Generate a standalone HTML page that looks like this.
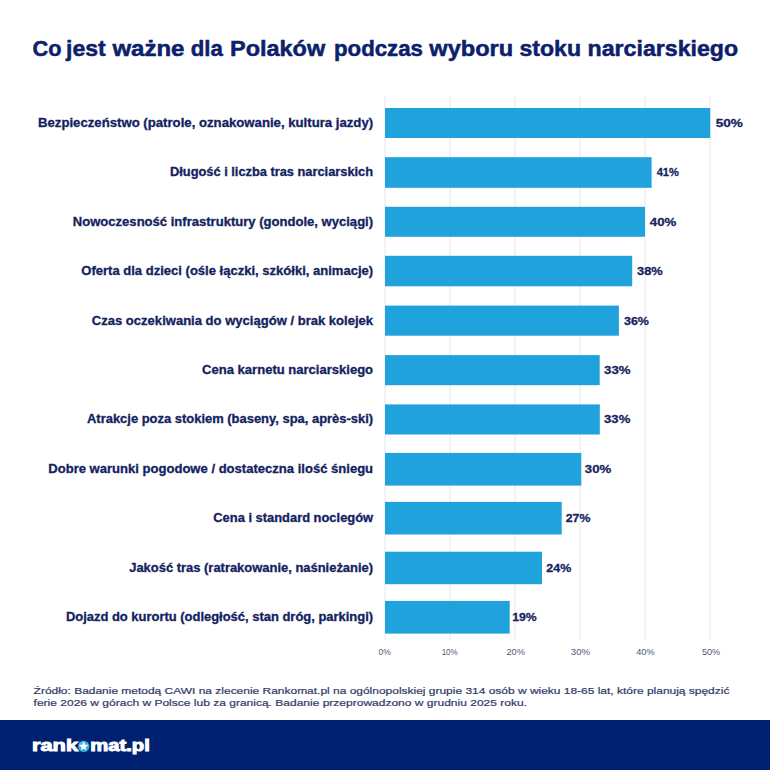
<!DOCTYPE html><html><head><meta charset="utf-8"><style>html,body{margin:0;padding:0;background:#fff;}body{width:770px;height:770px;overflow:hidden;position:relative;}svg{position:absolute;left:0;top:0;display:block;}</style></head><body>
<svg width="770" height="770" viewBox="0 0 770 770" font-family="'Liberation Sans', sans-serif">
<rect x="0" y="0" width="770" height="770" fill="#ffffff"/>
<rect x="384.5" y="96" width="1" height="545" fill="#e8e8eb"/>
<rect x="449.5" y="96" width="1" height="545" fill="#e8e8eb"/>
<rect x="514.5" y="96" width="1" height="545" fill="#e8e8eb"/>
<rect x="579.5" y="96" width="1" height="545" fill="#e8e8eb"/>
<rect x="644.5" y="96" width="1" height="545" fill="#e8e8eb"/>
<rect x="709.5" y="96" width="1" height="545" fill="#e8e8eb"/>
<rect x="385" y="108.0" width="325.20000000000005" height="30.00" fill="#20a2dc"/>
<rect x="385" y="157.2" width="266.6" height="30.60" fill="#20a2dc"/>
<rect x="385" y="206.8" width="260.0" height="30.00" fill="#20a2dc"/>
<rect x="385" y="255.8" width="247.20000000000005" height="30.50" fill="#20a2dc"/>
<rect x="385" y="305.6" width="233.89999999999998" height="30.10" fill="#20a2dc"/>
<rect x="385" y="355.1" width="214.70000000000005" height="30.10" fill="#20a2dc"/>
<rect x="385" y="404.4" width="214.79999999999995" height="30.10" fill="#20a2dc"/>
<rect x="385" y="452.9" width="196.29999999999995" height="32.70" fill="#20a2dc"/>
<rect x="385" y="501.9" width="176.70000000000005" height="32.60" fill="#20a2dc"/>
<rect x="385" y="551.7" width="157.0" height="32.50" fill="#20a2dc"/>
<rect x="385" y="600.9" width="124.69999999999999" height="32.70" fill="#20a2dc"/>
<rect x="0" y="720" width="770" height="50" fill="#002070"/>
<text x="32.60" y="55.7" font-size="21.2" font-weight="bold" fill="#0c206c" textLength="29.00" lengthAdjust="spacingAndGlyphs" stroke="#0c206c" stroke-width="0.5">Co</text>
<text x="66.00" y="55.7" font-size="21.2" font-weight="bold" fill="#0c206c" textLength="39.70" lengthAdjust="spacingAndGlyphs" stroke="#0c206c" stroke-width="0.5">jest</text>
<text x="112.40" y="55.7" font-size="21.2" font-weight="bold" fill="#0c206c" textLength="72.10" lengthAdjust="spacingAndGlyphs" stroke="#0c206c" stroke-width="0.5">ważne</text>
<text x="190.70" y="55.7" font-size="21.2" font-weight="bold" fill="#0c206c" textLength="32.10" lengthAdjust="spacingAndGlyphs" stroke="#0c206c" stroke-width="0.5">dla</text>
<text x="230.00" y="55.7" font-size="21.2" font-weight="bold" fill="#0c206c" textLength="95.20" lengthAdjust="spacingAndGlyphs" stroke="#0c206c" stroke-width="0.5">Polaków</text>
<text x="334.00" y="55.7" font-size="21.2" font-weight="bold" fill="#0c206c" textLength="88.90" lengthAdjust="spacingAndGlyphs" stroke="#0c206c" stroke-width="0.5">podczas</text>
<text x="429.30" y="55.7" font-size="21.2" font-weight="bold" fill="#0c206c" textLength="83.80" lengthAdjust="spacingAndGlyphs" stroke="#0c206c" stroke-width="0.5">wyboru</text>
<text x="519.50" y="55.7" font-size="21.2" font-weight="bold" fill="#0c206c" textLength="61.50" lengthAdjust="spacingAndGlyphs" stroke="#0c206c" stroke-width="0.5">stoku</text>
<text x="587.60" y="55.7" font-size="21.2" font-weight="bold" fill="#0c206c" textLength="150.50" lengthAdjust="spacingAndGlyphs" stroke="#0c206c" stroke-width="0.5">narciarskiego</text>
<text x="38.00" y="126.9" font-size="12.4" font-weight="bold" fill="#132260" textLength="335.10" lengthAdjust="spacingAndGlyphs" stroke="#132260" stroke-width="0.3">Bezpieczeństwo (patrole, oznakowanie, kultura jazdy)</text>
<text x="715.70" y="126.9" font-size="11.8" font-weight="bold" fill="#17235e" textLength="27.20" lengthAdjust="spacingAndGlyphs" stroke="#17235e" stroke-width="0.3">50%</text>
<text x="170.00" y="176.4" font-size="12.4" font-weight="bold" fill="#132260" textLength="203.10" lengthAdjust="spacingAndGlyphs" stroke="#132260" stroke-width="0.3">Długość i liczba tras narciarskich</text>
<text x="656.70" y="176.4" font-size="11.8" font-weight="bold" fill="#17235e" textLength="22.20" lengthAdjust="spacingAndGlyphs" stroke="#17235e" stroke-width="0.3">41%</text>
<text x="72.80" y="225.7" font-size="12.4" font-weight="bold" fill="#132260" textLength="300.30" lengthAdjust="spacingAndGlyphs" stroke="#132260" stroke-width="0.3">Nowoczesność infrastruktury (gondole, wyciągi)</text>
<text x="649.80" y="225.7" font-size="11.8" font-weight="bold" fill="#17235e" textLength="26.50" lengthAdjust="spacingAndGlyphs" stroke="#17235e" stroke-width="0.3">40%</text>
<text x="81.30" y="274.95" font-size="12.4" font-weight="bold" fill="#132260" textLength="291.80" lengthAdjust="spacingAndGlyphs" stroke="#132260" stroke-width="0.3">Oferta dla dzieci (ośle łączki, szkółki, animacje)</text>
<text x="637.00" y="274.95" font-size="11.8" font-weight="bold" fill="#17235e" textLength="25.80" lengthAdjust="spacingAndGlyphs" stroke="#17235e" stroke-width="0.3">38%</text>
<text x="91.80" y="324.55" font-size="12.4" font-weight="bold" fill="#132260" textLength="281.30" lengthAdjust="spacingAndGlyphs" stroke="#132260" stroke-width="0.3">Czas oczekiwania do wyciągów / brak kolejek</text>
<text x="624.00" y="324.55" font-size="11.8" font-weight="bold" fill="#17235e" textLength="24.90" lengthAdjust="spacingAndGlyphs" stroke="#17235e" stroke-width="0.3">36%</text>
<text x="202.10" y="374.05" font-size="12.4" font-weight="bold" fill="#132260" textLength="171.00" lengthAdjust="spacingAndGlyphs" stroke="#132260" stroke-width="0.3">Cena karnetu narciarskiego</text>
<text x="604.10" y="374.05" font-size="11.8" font-weight="bold" fill="#17235e" textLength="26.50" lengthAdjust="spacingAndGlyphs" stroke="#17235e" stroke-width="0.3">33%</text>
<text x="87.00" y="423.35" font-size="12.4" font-weight="bold" fill="#132260" textLength="286.10" lengthAdjust="spacingAndGlyphs" stroke="#132260" stroke-width="0.3">Atrakcje poza stokiem (baseny, spa, après-ski)</text>
<text x="604.10" y="423.35" font-size="11.8" font-weight="bold" fill="#17235e" textLength="26.20" lengthAdjust="spacingAndGlyphs" stroke="#17235e" stroke-width="0.3">33%</text>
<text x="48.30" y="473.15" font-size="12.4" font-weight="bold" fill="#132260" textLength="324.80" lengthAdjust="spacingAndGlyphs" stroke="#132260" stroke-width="0.3">Dobre warunki pogodowe / dostateczna ilość śniegu</text>
<text x="584.80" y="473.15" font-size="11.8" font-weight="bold" fill="#17235e" textLength="26.40" lengthAdjust="spacingAndGlyphs" stroke="#17235e" stroke-width="0.3">30%</text>
<text x="213.30" y="522.1" font-size="12.4" font-weight="bold" fill="#132260" textLength="159.80" lengthAdjust="spacingAndGlyphs" stroke="#132260" stroke-width="0.3">Cena i standard noclegów</text>
<text x="565.70" y="522.1" font-size="11.8" font-weight="bold" fill="#17235e" textLength="24.70" lengthAdjust="spacingAndGlyphs" stroke="#17235e" stroke-width="0.3">27%</text>
<text x="129.20" y="571.85" font-size="12.4" font-weight="bold" fill="#132260" textLength="243.90" lengthAdjust="spacingAndGlyphs" stroke="#132260" stroke-width="0.3">Jakość tras (ratrakowanie, naśnieżanie)</text>
<text x="546.30" y="571.85" font-size="11.8" font-weight="bold" fill="#17235e" textLength="24.90" lengthAdjust="spacingAndGlyphs" stroke="#17235e" stroke-width="0.3">24%</text>
<text x="65.90" y="621.15" font-size="12.4" font-weight="bold" fill="#132260" textLength="307.20" lengthAdjust="spacingAndGlyphs" stroke="#132260" stroke-width="0.3">Dojazd do kurortu (odległość, stan dróg, parkingi)</text>
<text x="512.20" y="621.15" font-size="11.8" font-weight="bold" fill="#17235e" textLength="24.50" lengthAdjust="spacingAndGlyphs" stroke="#17235e" stroke-width="0.3">19%</text>
<text x="378.60" y="655.0" font-size="9.0" font-weight="normal" fill="#50577a" textLength="12.20" lengthAdjust="spacingAndGlyphs">0%</text>
<text x="441.65" y="655.0" font-size="9.0" font-weight="normal" fill="#50577a" textLength="16.10" lengthAdjust="spacingAndGlyphs">10%</text>
<text x="506.50" y="655.0" font-size="9.0" font-weight="normal" fill="#50577a" textLength="18.40" lengthAdjust="spacingAndGlyphs">20%</text>
<text x="570.80" y="655.0" font-size="9.0" font-weight="normal" fill="#50577a" textLength="19.20" lengthAdjust="spacingAndGlyphs">30%</text>
<text x="636.25" y="655.0" font-size="9.0" font-weight="normal" fill="#50577a" textLength="18.30" lengthAdjust="spacingAndGlyphs">40%</text>
<text x="701.90" y="655.0" font-size="9.0" font-weight="normal" fill="#50577a" textLength="18.40" lengthAdjust="spacingAndGlyphs">50%</text>
<text x="33.60" y="694.4" font-size="9.9" font-weight="normal" fill="#323c6a" textLength="695.80" lengthAdjust="spacingAndGlyphs" stroke="#323c6a" stroke-width="0.22">Źródło: Badanie metodą CAWI na zlecenie Rankomat.pl na ogólnopolskiej grupie 314 osób w wieku 18-65 lat, które planują spędzić</text>
<text x="33.60" y="706.2" font-size="9.9" font-weight="normal" fill="#323c6a" textLength="493.40" lengthAdjust="spacingAndGlyphs" stroke="#323c6a" stroke-width="0.22">ferie 2026 w górach w Polsce lub za granicą. Badanie przeprowadzono w grudniu 2025 roku.</text>
<text x="32.00" y="751" font-size="17" font-weight="bold" fill="#ffffff" textLength="46.00" lengthAdjust="spacingAndGlyphs" stroke="#ffffff" stroke-width="1.0">rank</text>
<text x="90.20" y="751" font-size="17" font-weight="bold" fill="#ffffff" textLength="59.60" lengthAdjust="spacingAndGlyphs" stroke="#ffffff" stroke-width="1.0">mat.pl</text>
<defs><radialGradient id="lg" cx="0.45" cy="0.35" r="0.7"><stop offset="0" stop-color="#5fd0f2"/><stop offset="1" stop-color="#1e9dd0"/></radialGradient></defs>
<circle cx="83.7" cy="746.5" r="5.7" fill="url(#lg)"/>
<path d="M83.70 741.50 L84.90 744.84 L88.46 744.95 L85.65 747.13 L86.64 750.55 L83.70 748.55 L80.76 750.55 L81.75 747.13 L78.94 744.95 L82.50 744.84 Z" fill="#ffffff"/>
</svg></body></html>
